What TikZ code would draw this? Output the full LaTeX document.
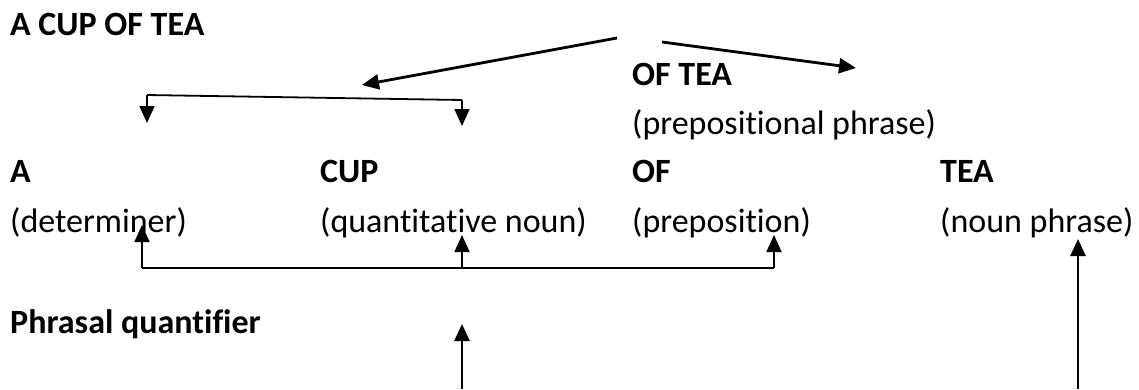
\documentclass[tikz,border=0pt]{standalone}
\usepackage{fontspec}
\setmainfont{Carlito}[Ligatures=NoCommon]
\usetikzlibrary{arrows.meta}
\tikzset{
  txt/.style   = {anchor=base west, inner sep=0pt, font=\fontsize{34}{40}\selectfont},
  txtb/.style  = {txt, font=\fontsize{34}{40}\selectfont\bfseries},
  arr/.style   = {line width=2.8pt, -{Triangle[length=17pt,width=15pt]}},
  brk/.style   = {line width=1.8pt},
  brka/.style  = {brk, -{Triangle[length=17pt,width=15pt]}},
}
\begin{document}
\begin{tikzpicture}[x=1pt, y=-1pt]
  \useasboundingbox (0,0) rectangle (1139,389);
  % texts
  \node[txtb] (cup)  at (10,35)   {A CUP OF TEA};
  \node[txtb] (ofp)  at (632,85)  {OF TEA};
  \node[txt]  (ofpl) at (632,134) {(prepositional phrase)};
  \node[txtb] (wa)   at (10,182)  {A};
  \node[txtb] (wcup) at (320,182) {CUP};
  \node[txtb] (wof)  at (632,182) {OF};
  \node[txtb] (wtea) at (940,182) {TEA};
  \node[txt]  (la)   at (10,232)  {(determiner)};
  \node[txt]  (lcup) at (320,232) {(quantitative noun)};
  \node[txt]  (lof)  at (632,232) {(preposition)};
  \node[txt]  (ltea) at (940,232) {(noun phrase)};
  \node[txtb] (pq)   at (10,333)  {Phrasal quantifier};
  % end points
  \coordinate (s1) at (617,38);  \coordinate (t1) at (362,85);
  \coordinate (s2) at (662,42);  \coordinate (t2) at (856,68);
  \coordinate (u1) at (147,95);  \coordinate (u2) at (462,100);
  \coordinate (d1) at (147,123); \coordinate (d2) at (462,126);
  \coordinate (b1) at (142,268); \coordinate (b2) at (462,268);
  \coordinate (b3) at (774,268);
  \coordinate (e1) at (142,225); \coordinate (e2) at (462,235);
  \coordinate (e3) at (774,235);
  \coordinate (f1) at (462,389); \coordinate (g1) at (462,324);
  \coordinate (f2) at (1078,389); \coordinate (g2) at (1078,239);
  % arrows
  \draw[arr] (s1) -- (t1);
  \draw[arr] (s2) -- (t2);
  \draw[brk] (u1) -- (u2);
  \draw[brka] (u1) -- (d1);
  \draw[brka] (u2) -- (d2);
  \draw[brk] (b1) -- (b3);
  \draw[brka] (b1) -- (e1);
  \draw[brka] (b2) -- (e2);
  \draw[brka] (b3) -- (e3);
  \draw[arr] (f1) -- (g1);
  \draw[arr] (f2) -- (g2);
\end{tikzpicture}
\end{document}
